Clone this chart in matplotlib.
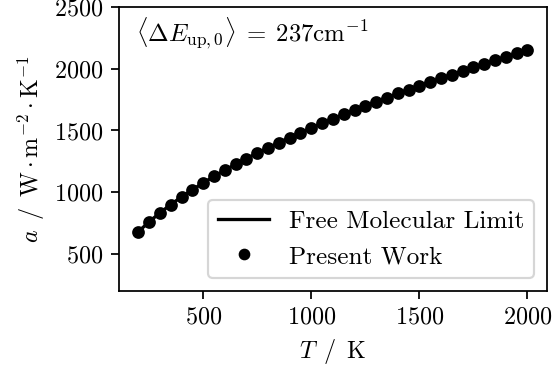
import numpy as np
import matplotlib
matplotlib.use('Agg')
import matplotlib.pyplot as plt

plt.rcParams.update({
    'font.family': 'serif', 'font.serif': ['cmr10'],
    'mathtext.fontset': 'cm', 'axes.formatter.use_mathtext': True,
    'font.size': 11,
})

T = [200, 250, 300, 350, 400, 450, 500, 550, 600, 650, 700, 750, 800,
     850, 900, 950, 1000, 1050, 1100, 1150, 1200, 1250, 1300, 1350, 1400,
     1450, 1500, 1550, 1600, 1650, 1700, 1750, 1800, 1850, 1900, 1950, 2000]
a_present = [680, 760, 833, 900, 962, 1020, 1075, 1128, 1178, 1226, 1272,
             1317, 1360, 1402, 1443, 1482, 1521, 1558, 1595, 1631, 1666,
             1700, 1734, 1767, 1800, 1831, 1863, 1893, 1924, 1953, 1983,
             2012, 2041, 2069, 2097, 2124, 2151]
a_fm = [680, 760, 833, 900, 962, 1020, 1075, 1128, 1178, 1226, 1272,
        1317, 1360, 1402, 1443, 1482, 1521, 1558, 1595, 1631, 1666,
        1700, 1734, 1767, 1800, 1831, 1863, 1893, 1924, 1953, 1983,
        2012, 2041, 2069, 2097, 2124, 2151]

fig, ax = plt.subplots(figsize=(3.5, 372 / 158), dpi=158)
fig.subplots_adjust(left=0.215, right=0.989, top=0.981, bottom=0.218)

ax.plot(T, a_fm, '-', color='k', lw=1.5, label='Free Molecular Limit')
ax.plot(T, a_present, 'o', color='k', ms=4.8, label='Present Work')

ax.text(0.04, 0.91, r'$\langle \Delta E_{\mathrm{up},0}\rangle\;=\;237\mathrm{cm}^{-1}$',
        transform=ax.transAxes, va='center', ha='left', fontsize=11.3)

ax.set_ylim(200, 2500)
ax.set_yticks([500, 1000, 1500, 2000, 2500])
ax.set_xticks([500, 1000, 1500, 2000])
ax.set_xlabel(r'$T\ \,/\ \,\mathrm{K}$')
ax.set_ylabel(r'$a\ \,/\ \,\mathrm{W \cdot m^{-2} \cdot K^{-1}}$', labelpad=3.5)
ax.legend(loc='lower right', fontsize=11.5, markerscale=0.9)

fig.savefig('out.png', dpi=158)
